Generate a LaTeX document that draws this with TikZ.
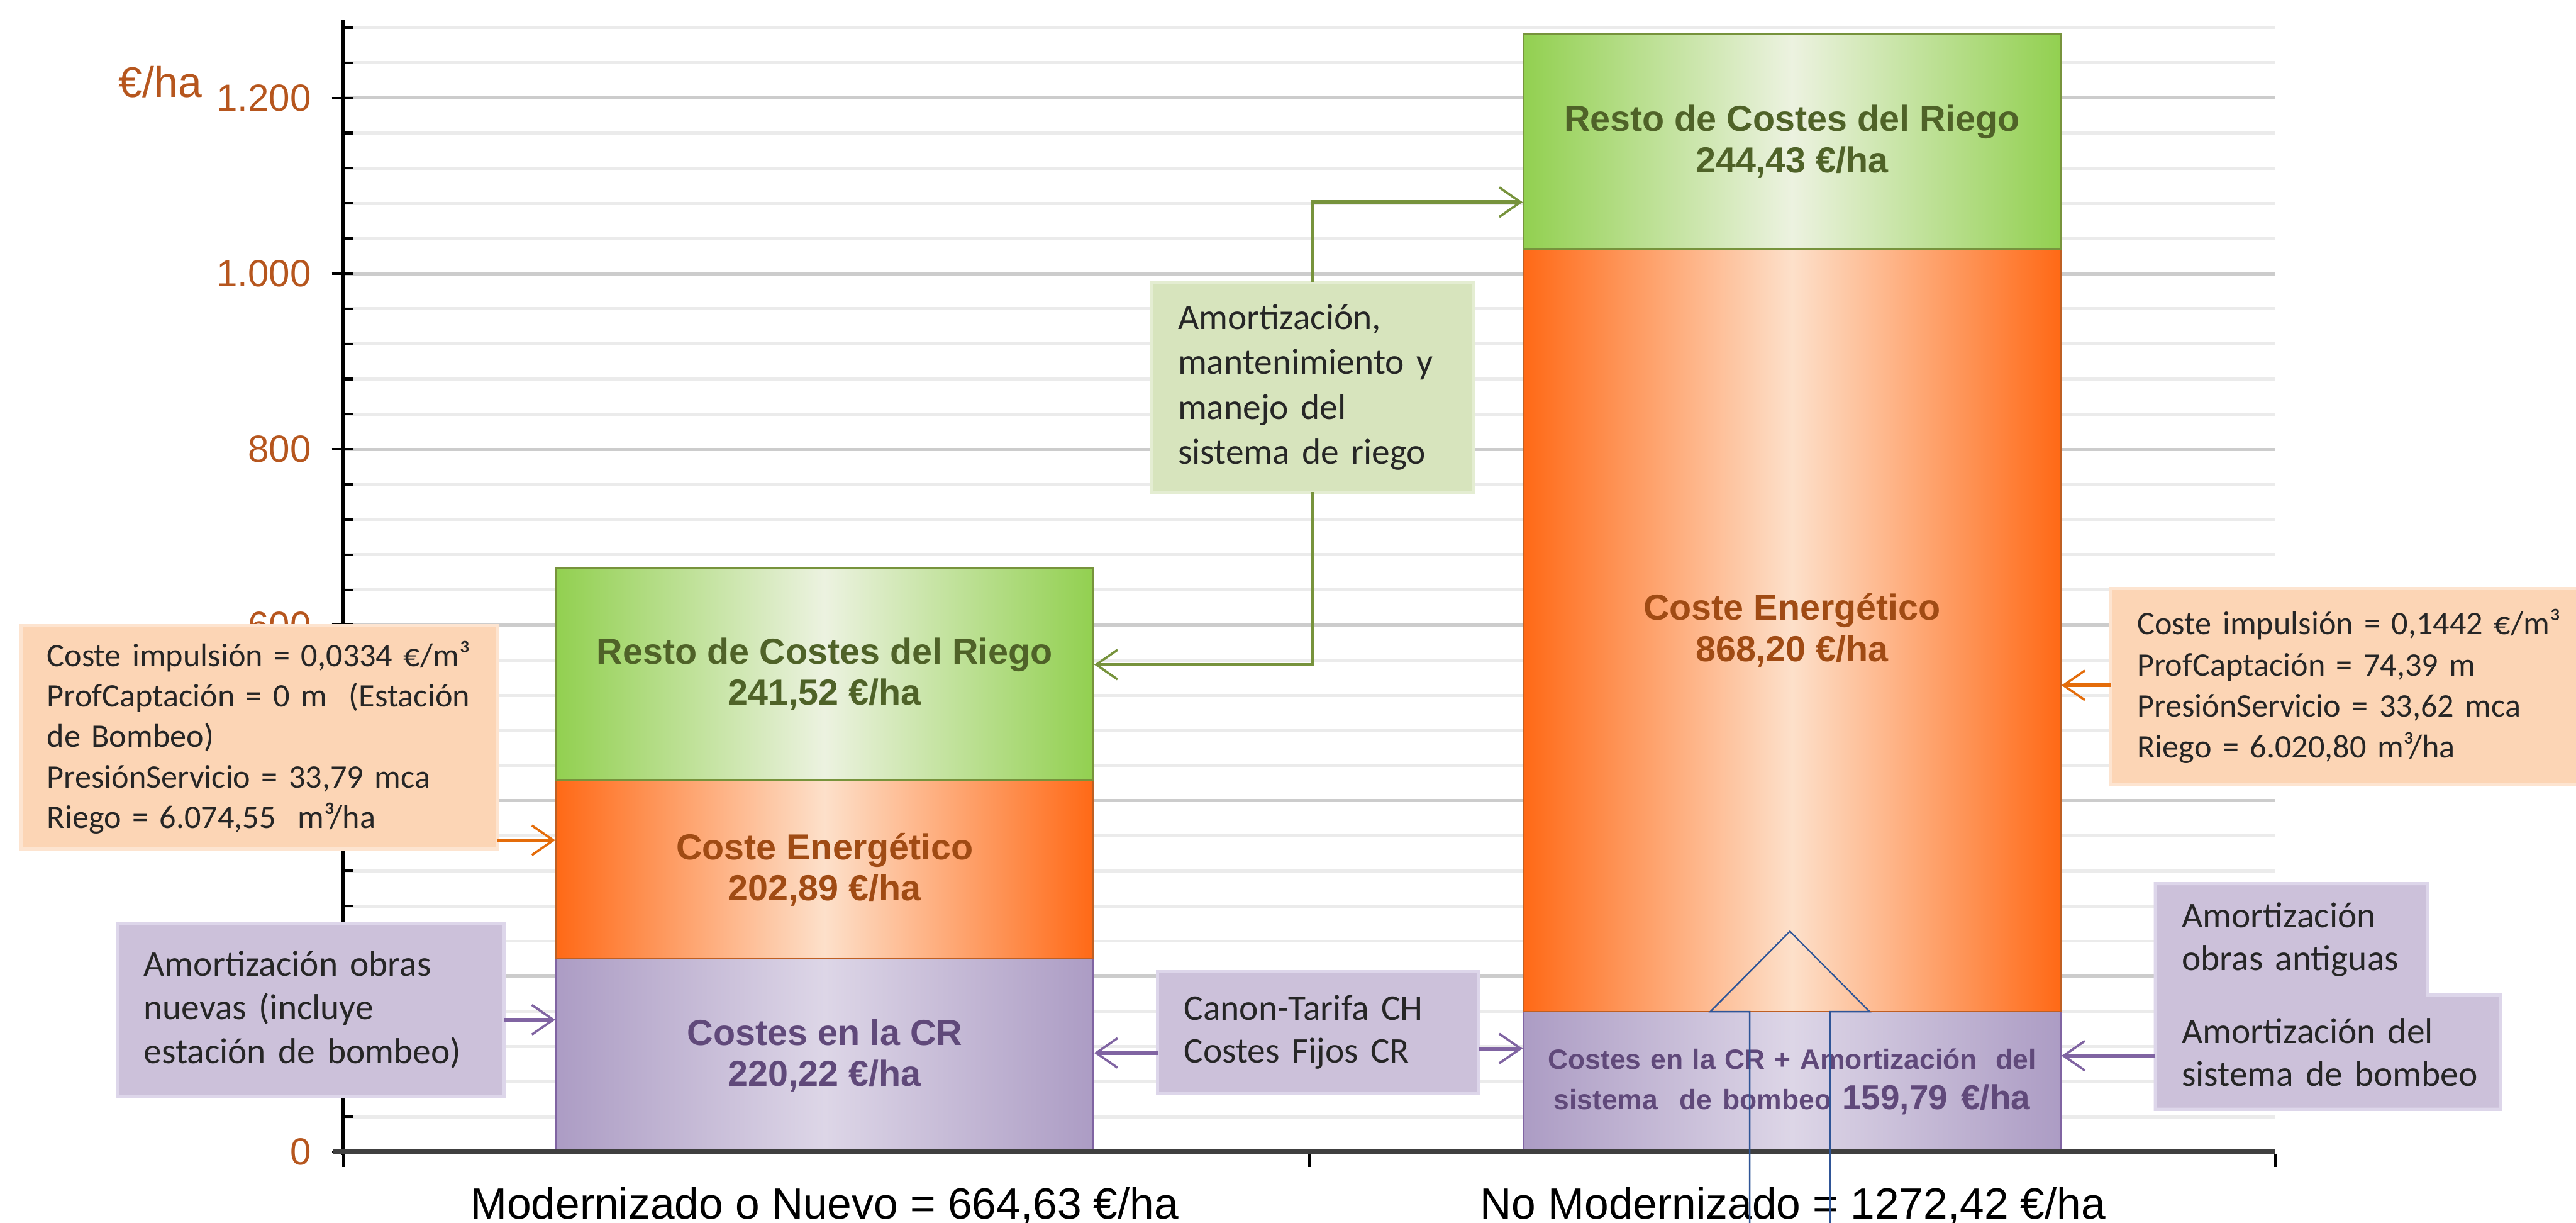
\documentclass[tikz,border=0pt]{standalone}
\usepackage{fontspec}
\usepackage{graphicx}
\setmainfont{Liberation Sans}
\newfontfamily\calfont{Carlito}
\usetikzlibrary{arrows.meta}
\definecolor{gEdge}{RGB}{146,208,80}
\definecolor{gMid}{RGB}{236,242,224}
\definecolor{gLine}{RGB}{119,147,60}
\definecolor{gText}{RGB}{79,98,40}
\definecolor{oEdge}{RGB}{255,105,22}
\definecolor{oMid}{RGB}{253,224,202}
\definecolor{oLine}{RGB}{190,95,35}
\definecolor{oText}{RGB}{160,75,20}
\definecolor{pEdge}{RGB}{172,156,196}
\definecolor{pMid}{RGB}{221,214,231}
\definecolor{pLine}{RGB}{128,100,162}
\definecolor{pText}{RGB}{96,73,122}
\definecolor{axisLbl}{RGB}{182,86,30}
\definecolor{boxO}{RGB}{252,213,181}
\definecolor{boxOf}{RGB}{253,228,208}
\definecolor{boxP}{RGB}{204,193,218}
\definecolor{boxPf}{RGB}{221,214,234}
\definecolor{boxG}{RGB}{215,228,189}
\definecolor{boxGf}{RGB}{228,237,210}
\definecolor{arrO}{RGB}{228,108,10}
\definecolor{arrP}{RGB}{128,100,162}
\definecolor{arrG}{RGB}{119,147,60}
\definecolor{triC}{RGB}{47,85,151}
\begin{document}
\begin{tikzpicture}[x=1pt,y=-1pt,
  seg/.style={draw, line width=1pt, minimum width=327pt, inner sep=0pt, align=center,
    font=\fontsize{22}{25}\selectfont\bfseries},
  gseg/.style={seg, draw=gLine, left color=gEdge, right color=gEdge, middle color=gMid, text=gText},
  oseg/.style={seg, draw=oLine, left color=oEdge, right color=oEdge, middle color=oMid, text=oText},
  pseg/.style={seg, draw=pLine, left color=pEdge, right color=pEdge, middle color=pMid, text=pText},
  callbox/.style={anchor=north west, line width=2pt, outer sep=0pt, inner xsep=16pt, inner ysep=4pt, align=left, text=black!85},
  callO/.style={callbox, fill=boxO, draw=boxOf, font=\calfont\fontsize{20}{24.6}\selectfont},
  callP/.style={callbox, fill=boxP, draw=boxPf, font=\calfont\fontsize{22}{26.6}\selectfont},
  callG/.style={callbox, fill=boxG, draw=boxGf, font=\calfont\fontsize{22}{27.3}\selectfont},
  conn/.style={line width=2.2pt, -{Straight Barb[length=13pt,width=18pt,line width=1.4pt]}},
  conO/.style={conn, draw=arrO},
  conP/.style={conn, draw=arrP},
  conG/.style={conn, draw=arrG},
  gridmin/.style={draw=black!8, line width=1.8pt},
  gridmaj/.style={draw=black!20, line width=2pt},
  ylab/.style={anchor=east, inner sep=0pt, text=axisLbl, font=\fontsize{23}{26}\selectfont},
  catlbl/.style={anchor=base, inner sep=0pt, font=\fontsize{26.6}{30}\selectfont}
]
\useasboundingbox (0,0) rectangle (1568,744);
\fill[white] (0,0) rectangle (1568,744);

% grid
\foreach \v in {40,80,...,1280}{
  \pgfmathsetmacro{\yy}{701-0.5345*\v}
  \draw[gridmin] (209,\yy) -- (1385,\yy);
}
\foreach \v in {200,400,...,1200}{
  \pgfmathsetmacro{\yy}{701-0.5345*\v}
  \draw[gridmaj] (209,\yy) -- (1385,\yy);
}

% y axis and ticks
\draw[line width=2.6pt] (209,12) -- (209,703);
\foreach \v in {0,40,...,1280}{
  \pgfmathsetmacro{\yy}{701-0.5345*\v}
  \draw[line width=1.6pt] (209,\yy) -- (215,\yy);
}
\foreach \v in {0,200,...,1200}{
  \pgfmathsetmacro{\yy}{701-0.5345*\v}
  \draw[line width=1.6pt] (202,\yy) -- (215,\yy);
}
\foreach \v/\t in {0/0,600/600,800/800,1000/1.000,1200/1.200}{
  \pgfmathsetmacro{\yy}{701-0.5345*\v}
  \node[ylab] (yl\v) at (189.5,\yy) {\t};
}
\node[inner sep=0pt, text=axisLbl, font=\fontsize{26}{30}\selectfont] (ytitle) at (97.5,50) {€/ha};

% bars
\node[pseg, minimum height=117.7pt] (p1) at (502,642.15) {Costes en la CR\\220,22 €/ha};
\node[oseg, minimum height=108.5pt] (o1) at (502,529.05) {Coste Energético\\202,89 €/ha};
\node[gseg, minimum height=129pt] (g1) at (502,410.3) {Resto de Costes del Riego\\241,52 €/ha};

\node[pseg, minimum height=85.4pt, font=\fontsize{17}{24.5}\selectfont\bfseries] (p2) at (1090.8,658.3)
  {\makebox[297pt][s]{Costes en la CR + Amortización\ \ del}\\
   \makebox[290pt][s]{sistema\ \ de bombeo {\fontsize{21}{24.5}\selectfont 159,79 €/ha}}};
\node[oseg, minimum height=464.1pt] (o2) at (1090.8,383.55) {Coste Energético\\868,20 €/ha};
\node[gseg, minimum height=130.6pt] (g2) at (1090.8,86.2) {Resto de Costes del Riego\\244,43 €/ha};

% x axis
\draw[line width=3.2pt, draw=black!75] (203,700.5) -- (1385,700.5);
\foreach \x in {209,797,1385}{
  \draw[line width=1.2pt] (\x,702) -- (\x,710);
}
\node[catlbl] (c1) at (502,741.5) {Modernizado o Nuevo = 664,63 €/ha};
\node[catlbl] (c2) at (1091.4,741.5) {No Modernizado = 1272,42 €/ha};

% callout boxes
\node[callO, text width=258pt, minimum height=136.2pt] (oL) at (12.6,380.6)
  {Coste impulsión = 0,0334 €/m³\\ProfCaptación = 0 m\ \ (Estación\\de Bombeo)\\PresiónServicio = 33,79 mca\\Riego = 6.074,55\ \ m³/ha};
\node[callP, text width=203.5pt, minimum height=105pt] (pL) at (71.5,561.9)
  {Amortización obras\\nuevas (incluye\\estación de bombeo)};
\node[callG, text width=164pt, minimum height=127.5pt] (gBox) at (701,171.9)
  {Amortización,\\mantenimiento y\\manejo del\\sistema de riego};
\node[callP, text width=163.5pt, minimum height=73.7pt, font=\calfont\fontsize{22}{26}\selectfont] (canon) at (704.6,591.3)
  {Canon-Tarifa CH\\Costes Fijos CR};
\node[callO, text width=265pt, minimum height=119.5pt, font=\calfont\fontsize{20}{25}\selectfont] (oR) at (1285,358)
  {Coste impulsión = 0,1442 €/m³\\ProfCaptación = 74,39 m\\PresiónServicio = 33,62 mca\\Riego = 6.020,80 m³/ha};
\node[callP, draw=none, text width=133.5pt, minimum height=67.8pt, font=\calfont\fontsize{22}{26}\selectfont] (pRa) at (1312,537.7)
  {Amortización\\obras~antiguas};
\node[callP, draw=none, text width=178pt, minimum height=69.5pt, font=\calfont\fontsize{22}{26}\selectfont] (pRb) at (1312,605.5)
  {Amortización~del\\sistema~de~bombeo};
\draw[boxPf, line width=2pt] (pRa.north west) -- (pRa.north east) -- (pRa.south east) -- (pRb.north east)
  -- (pRb.south east) -- (pRb.south west) -- cycle;

% connectors
\draw[conO] (oL.east |- 0,511.3) -- (o1.west |- 0,511.3);
\draw[conP] (pL.east |- 0,620.5) -- (p1.west |- 0,620.5);
\draw[conG] (gBox.north) |- (g2.west |- 0,123);
\draw[conG] (gBox.south) |- (g1.east |- 0,404.4);
\draw[conP] (canon.west |- 0,640.7) -- (p1.east |- 0,640.7);
\draw[conP] (canon.east |- 0,638) -- (p2.west |- 0,638);
\draw[conO] (oR.west |- 0,417) -- (o2.east |- 0,417);
\draw[conP] (pRb.west |- 0,642.4) -- (p2.east |- 0,642.4);

% up-arrow outline
\draw[triC, line width=0.9pt] (1065,750) -- (1065,615.6) -- (1041,615.6) -- (1089.5,566.7)
  -- (1138,615.6) -- (1114,615.6) -- (1114,750);
\end{tikzpicture}
\end{document}
